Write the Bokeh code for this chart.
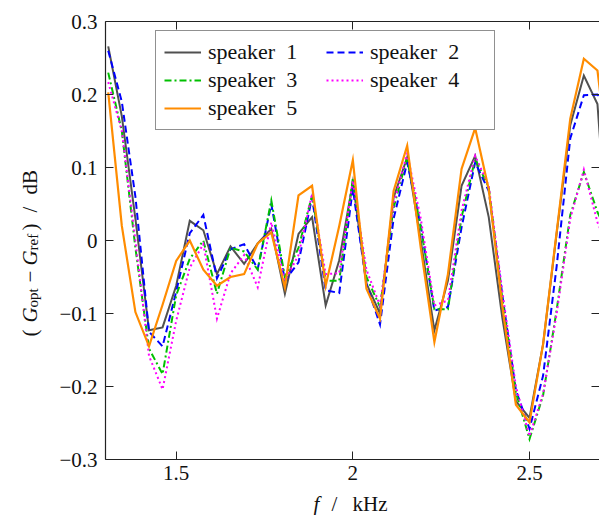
import math

from bokeh.embed import file_html
from bokeh.models import (FixedTicker, Label, Legend, LegendItem, LinearAxis,
                          Range1d)
from bokeh.plotting import figure
from bokeh.resources import INLINE

# frequency grid in kHz
freq = [1.3077, 1.3462, 1.3846, 1.4231, 1.4615, 1.5, 1.5385, 1.5769, 1.6154,
        1.6538, 1.6923, 1.7308, 1.7692, 1.8077, 1.8462, 1.8846, 1.9231, 1.9615,
        2.0, 2.0385, 2.0769, 2.1154, 2.1538, 2.1923, 2.2308, 2.2692, 2.3077,
        2.3462, 2.3846, 2.4231, 2.4615, 2.5, 2.5385, 2.5769, 2.6154, 2.6538,
        2.6923, 2.7308]

# gain difference G_opt - G_ref in dB for each speaker
speaker_1 = [0.266, 0.17, 0.03, -0.123, -0.119, -0.062, 0.027, 0.014, -0.046,
             -0.008, -0.032, -0.004, 0.016, -0.073, 0.009, 0.032, -0.089, -0.027,
             0.080, -0.059, -0.100, 0.059, 0.114, 0.0, -0.123, -0.055, 0.075,
             0.116, 0.032, -0.106, -0.220, -0.243, -0.142, 0.010, 0.158, 0.226,
             0.187, -0.07]
speaker_2 = [0.26, 0.19, 0.06, -0.125, -0.145, -0.07, 0.01, 0.035, -0.052,
             -0.012, -0.005, -0.039, 0.05, -0.055, -0.03, 0.059, -0.068, -0.072,
             0.071, -0.06, -0.115, 0.03, 0.107, 0.02, -0.096, -0.091, 0.018,
             0.107, 0.068, -0.075, -0.205, -0.258, -0.185, -0.035, 0.14, 0.199,
             0.2, 0.18]
speaker_3 = [0.23, 0.15, -0.01, -0.148, -0.183, -0.075, -0.025, 0.0, -0.073,
             -0.01, -0.015, -0.04, 0.055, -0.05, -0.01, 0.062, -0.055, -0.055,
             0.085, -0.05, -0.091, 0.045, 0.114, 0.018, -0.094, -0.094, 0.032,
             0.112, 0.073, -0.08, -0.208, -0.272, -0.212, -0.095, 0.035, 0.094,
             0.039, 0.0]
speaker_4 = [0.217, 0.15, 0.0, -0.158, -0.204, -0.11, -0.037, -0.005, -0.107,
             -0.045, -0.02, -0.064, 0.025, -0.055, -0.02, 0.064, -0.046, -0.045,
             0.082, -0.04, -0.089, 0.05, 0.119, 0.03, -0.089, -0.082, 0.041,
             0.116, 0.075, -0.07, -0.2, -0.268, -0.21, -0.1, 0.03, 0.097,
             0.025, -0.02]
speaker_5 = [0.203, 0.02, -0.098, -0.145, -0.088, -0.028, 0.0, -0.04, -0.062,
             -0.05, -0.046, -0.004, 0.011, -0.064, 0.062, 0.075, -0.062, 0.02,
             0.11, -0.066, -0.107, 0.068, 0.13, -0.01, -0.139, -0.046, 0.098,
             0.154, 0.07, -0.09, -0.225, -0.249, -0.142, 0.012, 0.167, 0.249,
             0.233, 0.08]

series_names = ["speaker\u20021", "speaker\u20022", "speaker\u20023",
                "speaker\u20024", "speaker\u20025"]

x_ticks = [1.5, 2.0, 2.5]
x_tick_labels = ["1.5", "2", "2.5"]
y_ticks = [-0.3, -0.2, -0.1, 0.0, 0.1, 0.2, 0.3]
y_tick_labels = ["\u22120.3", "\u22120.2", "\u22120.1", "0", "0.1", "0.2", "0.3"]

# axis box of the plot, in data units
X_MIN, X_MAX = 1.3, 2.698
Y_MIN, Y_MAX = -0.3, 0.3

FONT = "Liberation Serif"
TICK_SIZE = "21px"
LEGEND_SIZE = "22px"
INK = "#111111"

# the frame spans the whole canvas; the axes sit at fixed data positions
p = figure(width=599, height=515, output_backend="svg", toolbar_location=None,
           x_range=Range1d(1.0028, 2.6981), y_range=Range1d(-0.3767, 0.3288),
           min_border=0, x_axis_type=None, y_axis_type=None)
p.outline_line_color = None
p.grid.visible = False
p.background_fill_color = "white"
p.border_fill_color = "white"


def labelled_axis(ticks, labels, loc, bounds, standoff):
    ax = LinearAxis(ticker=FixedTicker(ticks=ticks),
                    major_label_overrides=dict(zip(ticks, labels)),
                    fixed_location=loc, bounds=bounds)
    ax.major_tick_in = 8
    ax.major_tick_out = 0
    ax.minor_tick_in = 0
    ax.minor_tick_out = 0
    ax.major_tick_line_color = "#222222"
    ax.axis_line_color = "#222222"
    ax.axis_line_width = 1.2
    ax.major_label_standoff = standoff
    ax.major_label_text_font = FONT
    ax.major_label_text_font_size = TICK_SIZE
    ax.major_label_text_color = INK
    return ax


def mirror_axis(ticks, loc, bounds, show_line):
    ax = LinearAxis(ticker=FixedTicker(ticks=[], minor_ticks=ticks),
                    fixed_location=loc, bounds=bounds)
    ax.major_tick_line_color = None
    ax.minor_tick_in = 8
    ax.minor_tick_out = 0
    ax.minor_tick_line_color = "#222222"
    ax.axis_line_color = "#222222" if show_line else None
    ax.axis_line_width = 1.2
    return ax


p.add_layout(labelled_axis(y_ticks, y_tick_labels, X_MIN, (Y_MIN, Y_MAX), 8), "left")
p.add_layout(labelled_axis(x_ticks, x_tick_labels, Y_MIN, (X_MIN, X_MAX), 6), "below")
p.add_layout(mirror_axis(x_ticks, Y_MAX, (X_MIN, X_MAX), True), "above")
p.add_layout(mirror_axis(y_ticks, X_MAX, (Y_MIN, Y_MAX), False), "right")

styles = [
    dict(color="#505050", line_width=2.0, line_dash="solid"),
    dict(color="#0000ff", line_width=2.0, line_dash="7 4"),
    dict(color="#00c000", line_width=2.0, line_dash="7 3 2 3"),
    dict(color="#ff00ff", line_width=2.0, line_dash="2 3"),
    dict(color="#ff8c00", line_width=2.2, line_dash="solid"),
]

renderers = []
for ys, st in zip([speaker_1, speaker_2, speaker_3, speaker_4, speaker_5], styles):
    r = p.line(freq, ys, line_color=st["color"], line_width=st["line_width"],
               line_dash=st["line_dash"], line_join="miter")
    renderers.append(r)

legend = Legend(items=[LegendItem(label=n, renderers=[r])
                       for n, r in zip(series_names, renderers)])
legend.orientation = "horizontal"
legend.ncols = 2
legend.location = (155, 385)
legend.label_text_font = FONT
legend.label_text_font_size = LEGEND_SIZE
legend.label_text_color = INK
legend.glyph_width = 37
legend.glyph_height = 20
legend.label_height = 20
legend.label_width = 116
legend.label_standoff = 7
legend.spacing = 2
legend.padding = 8
legend.margin = 0
legend.border_line_color = "#222222"
legend.border_line_width = 1.2
legend.background_fill_alpha = 1.0
p.add_layout(legend, "center")

# axis titles, composed from pieces so that italics and subscripts show;
# offsets in pixels from the lower-left corner of the canvas
x_title = [
    ("f", 313, 12, TICK_SIZE, "italic"),
    ("/", 331, 12, TICK_SIZE, "normal"),
    ("kHz", 352, 12, TICK_SIZE, "normal"),
]
y_title = [
    ("(", 29, 179, TICK_SIZE, "normal"),
    ("G", 29, 193, TICK_SIZE, "italic"),
    ("opt", 32, 208, "15px", "normal"),
    ("\u2212", 29, 233, TICK_SIZE, "normal"),
    ("G", 29, 250, TICK_SIZE, "italic"),
    ("ref", 32, 265, "15px", "normal"),
    (")", 29, 285, TICK_SIZE, "normal"),
    ("/", 29, 303, TICK_SIZE, "normal"),
    ("dB", 29, 321, TICK_SIZE, "normal"),
]
for parts, angle in ((x_title, 0.0), (y_title, math.pi / 2)):
    for text, x, y, size, style in parts:
        p.add_layout(Label(x=x, y=y, x_units="screen", y_units="screen",
                           text=text, angle=angle, text_font=FONT,
                           text_font_size=size, text_font_style=style,
                           text_color=INK, text_baseline="alphabetic",
                           text_align="left"))

open("out.html", "w").write(file_html(p, INLINE))
